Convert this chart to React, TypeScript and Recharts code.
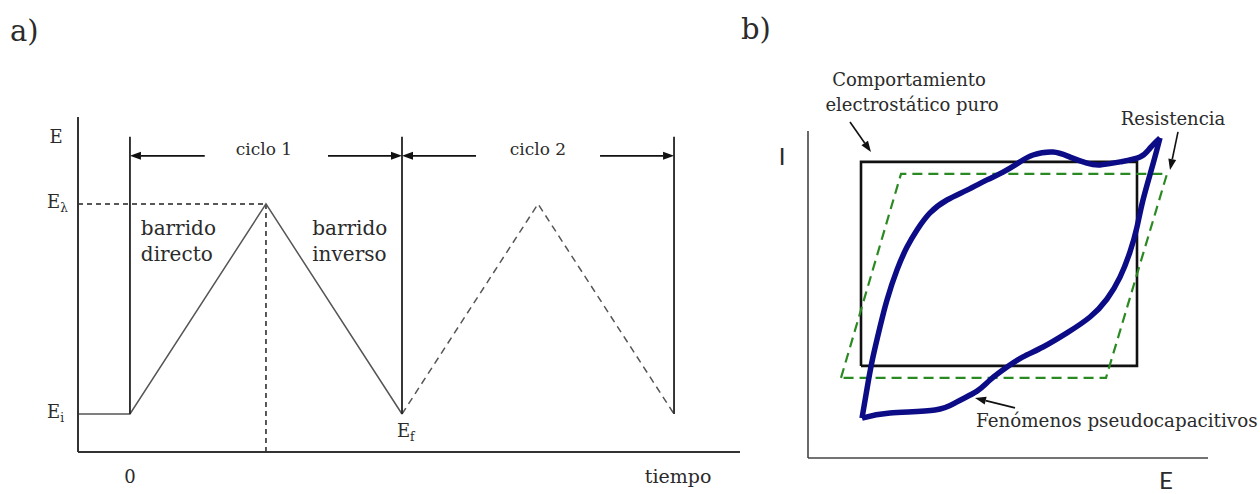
import React from "react";
import { LineChart, Line, XAxis, YAxis, ReferenceLine, ReferenceDot } from "recharts";

// ─── a) barrido de potencial vs tiempo ────────────────────────────────────────
// tiempo en semiciclos (0 = inicio), potencial normalizado: Ei = 0, Eλ = 1
const T_DOMAIN: [number, number] = [-0.382, 4.485];
const E_DOMAIN: [number, number] = [-0.181, 1.414];

const ciclo1 = [
  { t: -0.382, E: 0 },
  { t: 0, E: 0 },
  { t: 1, E: 1 },
  { t: 2, E: 0 },
];
const ciclo2 = [
  { t: 2, E: 0 },
  { t: 3, E: 1 },
  { t: 4, E: 0 },
];
const limitesCiclo = [0, 2, 4];
const TOPE_LIMITE = 1.32;
const guiaHorizontal = [
  { t: -0.382, E: 1 },
  { t: 1, E: 1 },
];
const guiaVertical = [
  { t: 1, E: 1 },
  { t: 1, E: -0.181 },
];
const NIVEL_FLECHAS = 1.229;
// [desde, hasta] en tiempo, la punta va en "hasta"
const flechasCiclo: [number, number][] = [
  [0.55, 0],
  [1.456, 2],
  [2.544, 2],
  [3.456, 4],
];
const yTicksA = [0, 1];
const yTickSubs = ["i", "λ"];
const xTicksA = [0];
const xTickLabelsA = ["0"];

// ─── b) voltamperograma ──────────────────────────────────────────────────────
const E_DOMAIN_B: [number, number] = [0, 100];
const I_DOMAIN_B: [number, number] = [0, 109];

const rectIdeal = [
  { e: 13.25, i: 30.7 },
  { e: 13.25, i: 98.7 },
  { e: 82.25, i: 98.7 },
  { e: 82.25, i: 30.7 },
  { e: 13.25, i: 30.7 },
];
const paraleloResistencia = [
  { e: 8.25, i: 26.7 },
  { e: 23.25, i: 94.7 },
  { e: 89.75, i: 94.7 },
  { e: 74.5, i: 26.7 },
  { e: 8.25, i: 26.7 },
];
const ramaAnodica = [
  { e: 13.5, i: 13.3 },
  { e: 20.5, i: 15 },
  { e: 31.75, i: 16 },
  { e: 37.25, i: 18.7 },
  { e: 42.25, i: 22.3 },
  { e: 45.5, i: 26 },
  { e: 49.75, i: 30.3 },
  { e: 53.75, i: 33.7 },
  { e: 58.75, i: 37 },
  { e: 64.75, i: 41.7 },
  { e: 70.5, i: 47 },
  { e: 74.75, i: 53 },
  { e: 78, i: 60.3 },
  { e: 80.5, i: 68.7 },
  { e: 82.25, i: 77 },
  { e: 83.75, i: 86 },
  { e: 86.25, i: 98 },
  { e: 88, i: 106.7 },
];
const ramaCatodica = [
  { e: 88, i: 106.7 },
  { e: 85.5, i: 103.3 },
  { e: 83, i: 100.3 },
  { e: 78, i: 98.7 },
  { e: 73, i: 97.7 },
  { e: 69.75, i: 98.3 },
  { e: 65.5, i: 100.3 },
  { e: 61.25, i: 102 },
  { e: 56.25, i: 101 },
  { e: 53, i: 98.7 },
  { e: 48.75, i: 95.3 },
  { e: 44.75, i: 92.7 },
  { e: 39.75, i: 89.3 },
  { e: 34.75, i: 86 },
  { e: 30.5, i: 81.7 },
  { e: 27.25, i: 76 },
  { e: 24.75, i: 70.3 },
  { e: 22.25, i: 62.7 },
  { e: 19.75, i: 52.7 },
  { e: 18, i: 43.7 },
  { e: 16.25, i: 33.7 },
  { e: 15, i: 25 },
  { e: 13.5, i: 13.3 },
];
// flechas de anotación [x1, y1, x2, y2]
const flechasB: [number, number, number, number][] = [
  [10.5, 112, 15.75, 102],
  [92.5, 108.7, 90.5, 96],
  [51.75, 16.7, 41.75, 20],
];

const SERIF = "'DejaVu Serif', serif";
const TXT = "#2b2b2b";

// ─── helpers ─────────────────────────────────────────────────────────────────

function Arrow(props: any) {
  const { x1, y1, x2, y2, stroke } = props;
  if (x1 == null) return null;
  const ang = Math.atan2(y2 - y1, x2 - x1);
  const head = 11;
  const w = 4;
  const bx = x2 - head * Math.cos(ang);
  const by = y2 - head * Math.sin(ang);
  const p1 = `${bx + w * Math.sin(ang)},${by - w * Math.cos(ang)}`;
  const p2 = `${bx - w * Math.sin(ang)},${by + w * Math.cos(ang)}`;
  return (
    <g>
      <line x1={x1} y1={y1} x2={bx} y2={by} stroke={stroke} strokeWidth={1.6} />
      <polygon points={`${x2},${y2} ${p1} ${p2}`} fill={stroke} />
    </g>
  );
}

const note = (
  key: string,
  x: number,
  y: number,
  content: React.ReactNode,
  size: number,
  anchor: "start" | "middle" | "end" = "middle",
  family = SERIF
) => (
  <ReferenceDot
    key={key}
    x={x}
    y={y}
    r={0}
    ifOverflow="visible"
    shape={(p: any) => (
      <text
        x={p.cx}
        y={p.cy}
        textAnchor={anchor}
        fontSize={size}
        fontFamily={family}
        fill={TXT}
      >
        {content}
      </text>
    )}
  />
);

function YTickA(p: any) {
  const idx = yTicksA.indexOf(p.payload.value);
  return (
    <text x={p.x - 23} y={p.y + 4} fontSize={18} fontFamily={SERIF} fill={TXT}>
      E
      <tspan fontSize={12} dy={4}>
        {yTickSubs[idx]}
      </tspan>
    </text>
  );
}

function XTickA(p: any) {
  const idx = xTicksA.indexOf(p.payload.value);
  return (
    <text x={p.x} y={p.y + 23} textAnchor="middle" fontSize={18} fontFamily={SERIF} fill={TXT}>
      {xTickLabelsA[idx]}
    </text>
  );
}

const noAnim = { dot: false, activeDot: false, isAnimationActive: false } as const;

// ─── componente principal ────────────────────────────────────────────────────

export default function App() {
  return (
    <div style={{ position: "absolute", left: 0, top: 0, width: 1260, height: 494, background: "#fff" }}>
      <div style={{ position: "absolute", left: 10, top: 14, fontFamily: SERIF, fontSize: 29, color: TXT }}>
        a)
      </div>
      <div style={{ position: "absolute", left: 741, top: 12, fontFamily: SERIF, fontSize: 29, color: TXT }}>
        b)
      </div>

      {/* a) */}
      <div style={{ position: "absolute", left: 0, top: 0 }}>
        <LineChart width={760} height={494} margin={{ top: 117, right: 20, bottom: 41, left: 77 }}>
          <XAxis
            type="number"
            dataKey="t"
            domain={T_DOMAIN}
            allowDataOverflow
            height={1}
            ticks={xTicksA}
            tick={<XTickA />}
            tickLine={false}
            tickSize={6}
            tickMargin={2}
            axisLine={{ stroke: "#333", strokeWidth: 2 }}
          />
          <YAxis
            type="number"
            dataKey="E"
            domain={E_DOMAIN}
            allowDataOverflow
            width={1}
            ticks={yTicksA}
            tick={<YTickA />}
            tickLine={false}
            tickSize={6}
            tickMargin={2}
            axisLine={{ stroke: "#333", strokeWidth: 2 }}
          />
          <Line data={guiaHorizontal} dataKey="E" stroke="#222" strokeWidth={1.5} strokeDasharray="5 4" {...noAnim} />
          <Line data={guiaVertical} dataKey="E" stroke="#222" strokeWidth={1.5} strokeDasharray="5 4" {...noAnim} />
          <Line data={ciclo1} dataKey="E" stroke="#555" strokeWidth={1.5} {...noAnim} />
          <Line data={ciclo2} dataKey="E" stroke="#555" strokeWidth={1.5} strokeDasharray="7 5" {...noAnim} />
          {limitesCiclo.map((t) => (
            <Line
              key={`lim-${t}`}
              data={[
                { t, E: 0 },
                { t, E: TOPE_LIMITE },
              ]}
              dataKey="E"
              stroke="#222"
              strokeWidth={1.8}
              {...noAnim}
            />
          ))}
          {flechasCiclo.map(([a, b], k) => (
            <ReferenceLine
              key={`fc-${k}`}
              segment={[
                { x: a, y: NIVEL_FLECHAS },
                { x: b, y: NIVEL_FLECHAS },
              ]}
              stroke="#111"
              ifOverflow="visible"
              shape={<Arrow />}
            />
          ))}
          {note("E", -0.544, 1.29, "E", 18)}
          {note("c1", 0.985, 1.235, "ciclo 1", 17)}
          {note("c2", 3.0, 1.235, "ciclo 2", 17)}
          {note("bd1", 0.08, 0.852, "barrido", 20, "start")}
          {note("bd2", 0.08, 0.729, "directo", 20, "start")}
          {note("bi1", 1.34, 0.852, "barrido", 20, "start")}
          {note("bi2", 1.34, 0.729, "inverso", 20, "start")}
          {note(
            "Ef",
            1.963,
            -0.11,
            <>
              E<tspan fontSize={12} dy={4}>f</tspan>
            </>,
            18,
            "start"
          )}
          {note("tiempo", 4.03, -0.329, "tiempo", 19)}
        </LineChart>
      </div>

      {/* b) */}
      <div style={{ position: "absolute", left: 760, top: 0 }}>
        <LineChart width={500} height={494} margin={{ top: 131, right: 52, bottom: 35, left: 47 }}>
          <XAxis
            type="number"
            dataKey="e"
            domain={E_DOMAIN_B}
            allowDataOverflow
            height={1}
            tick={false}
            tickLine={false}
            axisLine={{ stroke: "#444", strokeWidth: 1.6 }}
          />
          <YAxis
            type="number"
            dataKey="i"
            domain={I_DOMAIN_B}
            allowDataOverflow
            width={1}
            tick={false}
            tickLine={false}
            axisLine={{ stroke: "#444", strokeWidth: 1.6 }}
          />
          <Line data={rectIdeal} dataKey="i" stroke="#111" strokeWidth={2.6} {...noAnim} />
          <Line data={paraleloResistencia} dataKey="i" stroke="#2a8a22" strokeWidth={2.2} strokeDasharray="10 6" {...noAnim} />
          <Line data={ramaAnodica} type="natural" dataKey="i" stroke="#0c0c86" strokeWidth={5.5} strokeLinejoin="round" {...noAnim} />
          <Line data={ramaCatodica} type="natural" dataKey="i" stroke="#0c0c86" strokeWidth={5.5} strokeLinejoin="round" {...noAnim} />
          {flechasB.map(([a, b, c, d], k) => (
            <ReferenceLine
              key={`fb-${k}`}
              segment={[
                { x: a, y: b },
                { x: c, y: d },
              ]}
              stroke="#111"
              ifOverflow="visible"
              shape={<Arrow />}
            />
          ))}
          {note("comp1", 25.25, 124, "Comportamiento", 18)}
          {note("comp2", 26, 115.7, "electrostático puro", 18)}
          {note("res", 91.25, 111, "Resistencia", 18)}
          {note("fen", 42, 10.3, "Fenómenos pseudocapacitivos", 18.3, "start")}
          {note("I", -6.5, 97.7, "I", 24, "middle", "Lato, sans-serif")}
          {note("Eb", 89.5, -10.3, "E", 24, "middle", "Lato, sans-serif")}
        </LineChart>
      </div>
    </div>
  );
}
